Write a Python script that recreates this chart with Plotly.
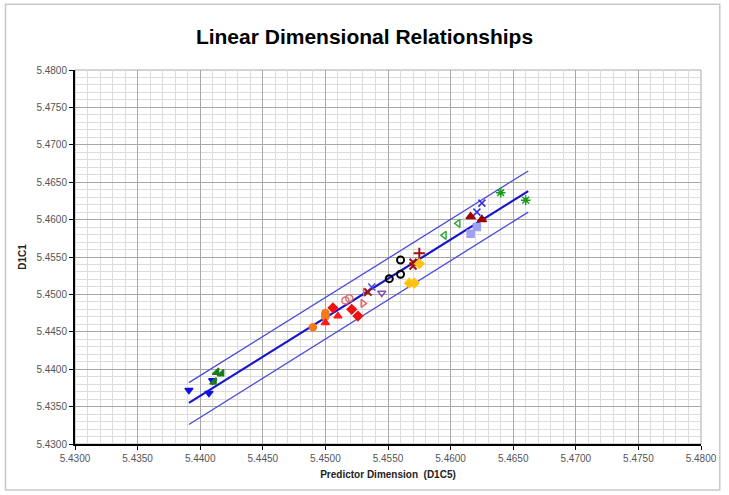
import plotly.graph_objects as go

# ---- data ----
blue_tri_x = [5.4391, 5.4407, 5.4410]
blue_tri_y = [5.4372, 5.4368, 5.4385]
green_tri_x = [5.4413, 5.4417, 5.4411]
green_tri_y = [5.4396, 5.4394, 5.4383]
orange_circ_x = [5.4490, 5.4500, 5.4500, 5.4500]
orange_circ_y = [5.4456, 5.4475, 5.4472, 5.4470]
red_tri_x = [5.4500, 5.4510]
red_tri_y = [5.4462, 5.4471]
red_dia_x = [5.4506, 5.4521, 5.4526]
red_dia_y = [5.4482, 5.4480, 5.4471]
pink_circ_x = [5.4516, 5.4519]
pink_circ_y = [5.4492, 5.4495]
pink_tri_x = [5.4530, 5.4532]
pink_tri_y = [5.4488, 5.4503]
blue_x_small_x = [5.4537]
blue_x_small_y = [5.4510]
purple_v_x = [5.4545]
purple_v_y = [5.4502]
black_circ_x = [5.4551, 5.4560, 5.4560]
black_circ_y = [5.4521, 5.4546, 5.4527]
dred_plus_x = [5.4575]
dred_plus_y = [5.4555]
dred_x_x = [5.4570, 5.4570, 5.4534]
dred_x_y = [5.4543, 5.4538, 5.4503]
gold_dia_x = [5.4575, 5.4567, 5.4571]
gold_dia_y = [5.4541, 5.4515, 5.4515]
lgreen_tri_x = [5.4595, 5.4606]
lgreen_tri_y = [5.4579, 5.4595]
dred_tri_x = [5.4616, 5.4625]
dred_tri_y = [5.4604, 5.4600]
lav_sq_x = [5.4616, 5.4621]
lav_sq_y = [5.4581, 5.4590]
blue_x_x = [5.4621, 5.4625]
blue_x_y = [5.4610, 5.4622]
green_ast_x = [5.4640, 5.4660]
green_ast_y = [5.4636, 5.4626]

fit_x = [5.4391, 5.4662]
fit_y = [5.4355, 5.4638]
upper_y = [5.4382, 5.4665]
lower_y = [5.4326, 5.4610]

x_ticks = [5.430 + 0.005 * i for i in range(11)]
y_ticks = [5.430 + 0.005 * i for i in range(11)]

fig = go.Figure()

# regression and prediction bands
fig.add_trace(go.Scatter(x=fit_x, y=upper_y, mode="lines",
                         line=dict(color="#4B4BD8", width=1.3)))
fig.add_trace(go.Scatter(x=fit_x, y=lower_y, mode="lines",
                         line=dict(color="#4B4BD8", width=1.3)))
fig.add_trace(go.Scatter(x=fit_x, y=fit_y, mode="lines",
                         line=dict(color="#1515CC", width=2.2)))

def pts(x, y, symbol, color, size=7, lw=1.5):
    fig.add_trace(go.Scatter(x=x, y=y, mode="markers",
                             marker=dict(symbol=symbol, color=color, size=size,
                                         line=dict(color=color, width=lw))))

pts(blue_tri_x, blue_tri_y, "triangle-down", "#1010E0")
pts(green_tri_x, green_tri_y, "triangle-se", "#1E7A1E")
pts(orange_circ_x, orange_circ_y, "circle", "#F57A1E")
pts(red_tri_x, red_tri_y, "triangle-up", "#FF1A1A")
pts(red_dia_x, red_dia_y, "diamond", "#F01010")
pts(pink_circ_x, pink_circ_y, "circle-open", "#E07070")
pts(pink_tri_x, pink_tri_y, "triangle-right-open", "#E06A6A")
pts(blue_x_small_x, blue_x_small_y, "x-thin-open", "#4A4AE0", 7, 1.5)
pts(purple_v_x, purple_v_y, "triangle-down-open", "#8A4AA8")
pts(black_circ_x, black_circ_y, "circle-open", "#000000", 7, 2)
pts(dred_plus_x, dred_plus_y, "cross-thin-open", "#A01010", 8, 2)
pts(dred_x_x, dred_x_y, "x-thin-open", "#A01010", 7, 2)
pts(gold_dia_x, gold_dia_y, "diamond", "#FFC20E")
pts(lgreen_tri_x, lgreen_tri_y, "triangle-left-open", "#3AA83A")
pts(dred_tri_x, dred_tri_y, "triangle-up", "#A00000", 8)
pts(lav_sq_x, lav_sq_y, "square", "#A0A0F0")
pts(blue_x_x, blue_x_y, "x-thin-open", "#3030E8", 7, 1.5)
pts(green_ast_x, green_ast_y, "asterisk-open", "#1A9A1A", 8, 1.5)

axis_common = dict(
    range=[5.43, 5.48], tickmode="array", tickformat=".4f",
    showgrid=True, gridcolor="#A8A8A8", gridwidth=1,
    minor=dict(dtick=0.001, showgrid=True, gridcolor="#DCDCDC", gridwidth=1),
    showline=True, linecolor="black", linewidth=2,
    ticks="outside", ticklen=4, tickcolor="black",
    tickfont=dict(family="Liberation Sans, Arial", size=10, color="#555555"),
    zeroline=False, fixedrange=True,
)

fig.update_xaxes(**axis_common, tickvals=x_ticks,
                 title=dict(text="<b>Predictor Dimension  (D1C5)</b>",
                            font=dict(family="Liberation Sans, Arial", size=10, color="#222"),
                            standoff=8))
fig.update_yaxes(**axis_common, tickvals=y_ticks,
                 title=dict(text="<b>D1C1</b>",
                            font=dict(family="Liberation Sans, Arial", size=10, color="#222"),
                            standoff=8))

# outer chart frame and plot border
fig.add_shape(type="rect", xref="paper", yref="paper",
              x0=-0.111, x1=1.030, y0=-0.123, y1=1.176,
              line=dict(color="#C8C8C8", width=1.5), layer="below")
fig.add_shape(type="rect", xref="paper", yref="paper",
              x0=0, x1=1, y0=0, y1=1,
              line=dict(color="#A8A8A8", width=1), layer="below")

fig.update_layout(
    width=729, height=495,
    margin=dict(l=75, r=24, t=70, b=51),
    paper_bgcolor="white", plot_bgcolor="white",
    showlegend=False,
    title=dict(text="<b>Linear Dimensional Relationships</b>",
               x=0.5, xanchor="center", y=0.925, yanchor="middle",
               font=dict(family="Liberation Sans, Arial", size=21, color="black")),
)

fig.write_html("out.html")
